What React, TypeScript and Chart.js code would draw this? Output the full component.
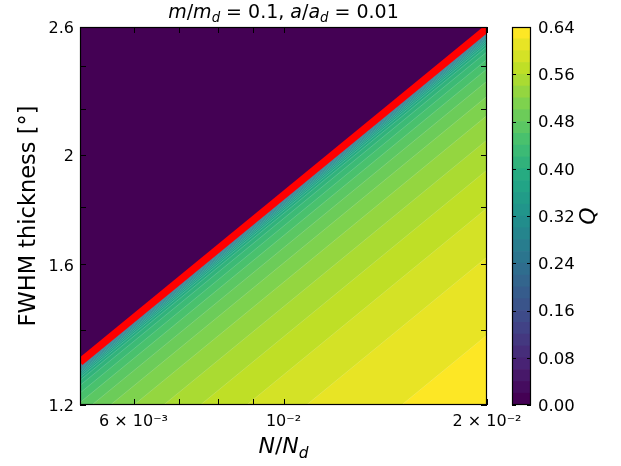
import React, { useEffect, useRef } from 'react';
import { Chart, registerables } from 'chart.js';

Chart.register(...registerables);

// ---------------- data ----------------
const xRange = [0.005, 0.02]; // N/N_d
const yRange = [1.2, 2.6]; // FWHM thickness [deg]
const xTickValues = [0.005, 0.006, 0.007, 0.008, 0.009, 0.01, 0.02];
const xTickLabels = ['', '6 × 10⁻³', '', '', '', '10⁻²', '2 × 10⁻²'];
const yTickValues = [1.2, 1.4, 1.6, 1.8, 2.0, 2.2, 2.4, 2.6];
const yTickLabels = ['1.2', '', '1.6', '', '2', '', '', '2.6'];

// colour levels of Q (contourf bands)
const colorbarLevels = [
  0.0, 0.02, 0.04, 0.06, 0.08, 0.1, 0.12, 0.14, 0.16, 0.18, 0.2, 0.22, 0.24, 0.26, 0.28, 0.3, 0.32,
  0.34, 0.36, 0.38, 0.4, 0.42, 0.44, 0.46, 0.48, 0.5, 0.52, 0.54, 0.56, 0.58, 0.6, 0.62, 0.64,
];
const colorbarTicks = [0.0, 0.08, 0.16, 0.24, 0.32, 0.4, 0.48, 0.56, 0.64];

// contour lines: Q level, thickness where it meets N/N_d = 0.005 and N/N_d = 0.02
const contourLevels = [
  0.02, 0.04, 0.06, 0.08, 0.1, 0.12, 0.14, 0.16, 0.18, 0.2, 0.22, 0.24, 0.26, 0.28, 0.3, 0.32,
  0.34, 0.36, 0.38, 0.4, 0.42, 0.44, 0.46, 0.48, 0.5, 0.52, 0.54, 0.56, 0.58, 0.6, 0.62,
];
const contourYLeft = [
  1.3099, 1.3097, 1.3096, 1.3095, 1.3092, 1.3087, 1.3076, 1.306, 1.3041, 1.302, 1.2996, 1.2969,
  1.2943, 1.2914, 1.2879, 1.2843, 1.2803, 1.2756, 1.2699, 1.2621, 1.249, 1.2298, 1.2061, 1.1764,
  1.1404, 1.0964, 1.0431, 0.9808, 0.9074, 0.8209, 0.6998,
];
const contourYRight = [
  2.5917, 2.5915, 2.5912, 2.5909, 2.5904, 2.5894, 2.5872, 2.5841, 2.5804, 2.5761, 2.5714, 2.5661,
  2.5609, 2.5551, 2.5484, 2.5411, 2.5333, 2.524, 2.5127, 2.4973, 2.4714, 2.4332, 2.3864, 2.3276,
  2.2563, 2.1694, 2.0638, 1.9406, 1.7954, 1.6242, 1.3847,
];
// red boundary line (Q = 0 edge)
const boundaryY = [1.31, 2.592];

// ---------------- styling helpers ----------------
const VIRIDIS = [
  '#440154', '#482475', '#414487', '#355f8d', '#2a788e', '#21918c',
  '#22a884', '#44bf70', '#7ad151', '#bddf26', '#fde725',
];
function hexToRgb(h: string) {
  return [parseInt(h.slice(1, 3), 16), parseInt(h.slice(3, 5), 16), parseInt(h.slice(5, 7), 16)];
}
function viridis(t: number) {
  const tt = Math.max(0, Math.min(1, t)) * (VIRIDIS.length - 1);
  const i = Math.min(VIRIDIS.length - 2, Math.floor(tt));
  const f = tt - i;
  const a = hexToRgb(VIRIDIS[i]);
  const b = hexToRgb(VIRIDIS[i + 1]);
  const c = a.map((v, k) => Math.round(v + (b[k] - v) * f));
  return `rgb(${c[0]},${c[1]},${c[2]})`;
}
const nBands = colorbarLevels.length - 1;
const bandColor = (i: number) => viridis(i / (nBands - 1));

const FONT = '"DejaVu Sans", sans-serif';

type Seg = { t: string; italic?: boolean; sub?: boolean };
function drawRich(ctx: CanvasRenderingContext2D, segs: Seg[], x: number, y: number, size: number) {
  const fontFor = (s: Seg) => `${s.italic ? 'italic ' : ''}${s.sub ? size * 0.7 : size}px ${FONT}`;
  const widths = segs.map((s) => {
    ctx.font = fontFor(s);
    return ctx.measureText(s.t).width;
  });
  const total = widths.reduce((p, c) => p + c, 0);
  let cx = x - total / 2;
  ctx.textAlign = 'left';
  ctx.textBaseline = 'alphabetic';
  segs.forEach((s, i) => {
    ctx.font = fontFor(s);
    ctx.fillText(s.t, cx, y + (s.sub ? size * 0.22 : 0));
    cx += widths[i];
  });
}

const mainDecor = {
  id: 'mainDecor',
  afterDraw(chart: any) {
    const { ctx, chartArea: a, scales } = chart;
    ctx.save();
    ctx.strokeStyle = '#000';
    ctx.lineWidth = 1;
    ctx.beginPath();
    for (const v of xTickValues) {
      const px = Math.round(scales.x.getPixelForValue(v)) + 0.5;
      ctx.moveTo(px, a.bottom);
      ctx.lineTo(px, a.bottom - 6);
      ctx.moveTo(px, a.top);
      ctx.lineTo(px, a.top + 6);
    }
    for (const v of yTickValues) {
      const py = Math.round(scales.y.getPixelForValue(v)) + 0.5;
      ctx.moveTo(a.left, py);
      ctx.lineTo(a.left + 6, py);
      ctx.moveTo(a.right, py);
      ctx.lineTo(a.right - 6, py);
    }
    ctx.stroke();
    ctx.lineWidth = 1.2;
    ctx.strokeRect(a.left + 0.5, a.top + 0.5, a.right - a.left - 1, a.bottom - a.top - 1);

    ctx.fillStyle = '#000';
    // title
    drawRich(
      ctx,
      [
        { t: 'm', italic: true },
        { t: '/' },
        { t: 'm', italic: true },
        { t: 'd', italic: true, sub: true },
        { t: ' = 0.1, ' },
        { t: 'a', italic: true },
        { t: '/' },
        { t: 'a', italic: true },
        { t: 'd', italic: true, sub: true },
        { t: ' = 0.01' },
      ],
      (a.left + a.right) / 2,
      18,
      19
    );
    // x title
    drawRich(
      ctx,
      [
        { t: 'N', italic: true },
        { t: '/' },
        { t: 'N', italic: true },
        { t: 'd', italic: true, sub: true },
      ],
      (a.left + a.right) / 2,
      453,
      22
    );
    // y title
    ctx.save();
    ctx.translate(35, (a.top + a.bottom) / 2);
    ctx.rotate(-Math.PI / 2);
    ctx.font = `22.5px ${FONT}`;
    ctx.textAlign = 'center';
    ctx.textBaseline = 'alphabetic';
    ctx.fillText('FWHM thickness [°]', 0, 0);
    ctx.restore();
    ctx.restore();
  },
};

const cbarDecor = {
  id: 'cbarDecor',
  afterDraw(chart: any) {
    const { ctx, chartArea: a, scales } = chart;
    ctx.save();
    ctx.strokeStyle = '#000';
    ctx.lineWidth = 1;
    ctx.beginPath();
    for (const v of colorbarTicks) {
      const py = Math.round(scales.y.getPixelForValue(v)) + 0.5;
      ctx.moveTo(a.left, py);
      ctx.lineTo(a.left + 4, py);
      ctx.moveTo(a.right, py);
      ctx.lineTo(a.right - 4, py);
    }
    ctx.stroke();
    ctx.lineWidth = 1.2;
    ctx.strokeRect(a.left + 0.5, a.top + 0.5, a.right - a.left - 1, a.bottom - a.top - 1);
    ctx.fillStyle = '#000';
    ctx.translate(95, (a.top + a.bottom) / 2);
    ctx.rotate(-Math.PI / 2);
    ctx.font = `italic 22px ${FONT}`;
    ctx.textAlign = 'center';
    ctx.textBaseline = 'alphabetic';
    ctx.fillText('Q', 0, 0);
    ctx.restore();
  },
};

export default function App() {
  const mainRef = useRef<HTMLCanvasElement>(null);
  const cbarRef = useRef<HTMLCanvasElement>(null);

  useEffect(() => {
    Chart.defaults.color = '#000';
    const pt = (x: number, y: number) => ({ x, y });
    const datasets: any[] = [];
    datasets.push({
      data: [pt(xRange[0], yRange[1]), pt(xRange[1], yRange[1])],
      fill: 'start',
      backgroundColor: bandColor(0),
      borderWidth: 0,
      pointRadius: 0,
      order: 1000,
      clip: 0,
    });
    contourLevels.forEach((lev, i) => {
      datasets.push({
        label: `Q=${lev}`,
        data: [pt(xRange[0], contourYLeft[i]), pt(xRange[1], contourYRight[i])],
        fill: 'start',
        backgroundColor: bandColor(i + 1),
        borderColor: 'rgba(255,255,255,0.28)',
        borderWidth: 0.6,
        pointRadius: 0,
        tension: 0,
        order: 500 - i,
        clip: 0,
      });
    });
    datasets.push({
      data: [pt(xRange[0], boundaryY[0]), pt(xRange[1], boundaryY[1])],
      fill: false,
      borderColor: '#ff0000',
      borderWidth: 7.5,
      pointRadius: 0,
      order: 0,
      clip: 0,
    });

    const main = new Chart(mainRef.current!, {
      type: 'line',
      data: { datasets },
      plugins: [mainDecor],
      options: {
        animation: false,
        responsive: false,
        devicePixelRatio: 1,
        layout: { padding: { left: 0, top: 27, right: 134, bottom: 0 } },
        plugins: { legend: { display: false }, tooltip: { enabled: false } },
        events: [],
        scales: {
          x: {
            type: 'logarithmic',
            min: xRange[0],
            max: xRange[1],
            grid: { display: false, drawTicks: false },
            border: { display: false },
            afterBuildTicks: (s: any) => {
              s.ticks = xTickValues.map((v) => ({ value: v }));
            },
            afterFit: (s: any) => {
              s.height = 61;
            },
            ticks: {
              autoSkip: false,
              maxRotation: 0,
              minRotation: 0,
              padding: 7,
              color: '#000',
              font: { family: FONT, size: 16 },
              callback: (_v: any, i: number) => xTickLabels[i],
            },
          },
          y: {
            type: 'logarithmic',
            min: yRange[0],
            max: yRange[1],
            grid: { display: false, drawTicks: false },
            border: { display: false },
            afterBuildTicks: (s: any) => {
              s.ticks = yTickValues.map((v) => ({ value: v }));
            },
            afterFit: (s: any) => {
              s.width = 80;
            },
            ticks: {
              autoSkip: false,
              padding: 6,
              labelOffset: 2,
              color: '#000',
              font: { family: FONT, size: 16 },
              callback: (_v: any, i: number) => yTickLabels[i],
            },
          },
        },
      } as any,
    });

    const cbDatasets = colorbarLevels.slice(0, -1).map((lo, i) => ({
      data: [[lo, colorbarLevels[i + 1]]],
      backgroundColor: bandColor(i),
      borderWidth: 0,
      barPercentage: 1,
      categoryPercentage: 1,
      grouped: false,
    }));
    const cbar = new Chart(cbarRef.current!, {
      type: 'bar',
      data: { labels: ['Q'], datasets: cbDatasets as any },
      plugins: [cbarDecor],
      options: {
        animation: false,
        responsive: false,
        devicePixelRatio: 1,
        events: [],
        layout: { padding: { left: 12, top: 27, right: 0, bottom: 61 } },
        plugins: { legend: { display: false }, tooltip: { enabled: false } },
        scales: {
          x: { display: false },
          y: {
            position: 'right',
            min: colorbarLevels[0],
            max: colorbarLevels[colorbarLevels.length - 1],
            grid: { display: false, drawTicks: false },
            border: { display: false },
            afterBuildTicks: (s: any) => {
              s.ticks = colorbarTicks.map((v) => ({ value: v }));
            },
            afterFit: (s: any) => {
              s.width = 90;
            },
            ticks: {
              padding: 7,
              labelOffset: 1.5,
              color: '#000',
              font: { family: FONT, size: 16.5 },
              callback: (v: any) => Number(v).toFixed(2),
            },
          },
        },
      } as any,
    });

    return () => {
      main.destroy();
      cbar.destroy();
    };
  }, []);

  return (
    <div style={{ position: 'absolute', left: 0, top: 0, width: 621, height: 466, background: '#fff' }}>
      <canvas ref={mainRef} width={621} height={466} style={{ position: 'absolute', left: 0, top: 0 }} />
      <canvas ref={cbarRef} width={121} height={466} style={{ position: 'absolute', left: 500, top: 0 }} />
    </div>
  );
}
